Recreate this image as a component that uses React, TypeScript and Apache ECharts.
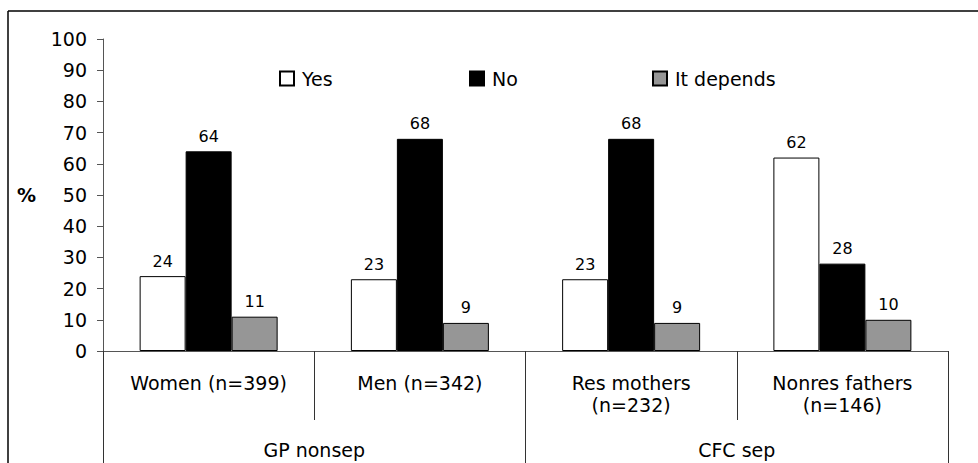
import React, { useEffect, useRef } from "react";
import * as echarts from "echarts";

const categories = ["Women (n=399)", "Men (n=342)", "Res mothers\n(n=232)", "Nonres fathers\n(n=146)"];
const groups = ["GP nonsep", "CFC sep"];
const yesValues = [24, 23, 23, 62];
const noValues = [64, 68, 68, 28];
const dependsValues = [11, 9, 9, 10];
const seriesNames = ["Yes", "No", "It depends"];
const yTicks = { min: 0, max: 100, interval: 10 };

const FONT = "DejaVu Sans";

export default function App() {
  const ref = useRef<HTMLDivElement>(null);
  useEffect(() => {
    if (!ref.current) return;
    const chart = echarts.init(ref.current, undefined, { renderer: "svg" });
    const labelStyle = {
      show: true,
      position: "top" as const,
      distance: 7,
      color: "#000",
      fontFamily: FONT,
      fontSize: 16,
    };
    const legendCommon = {
      top: 64,
      icon: "rect",
      itemWidth: 14,
      itemHeight: 14,
      itemGap: 0,
      textStyle: { fontFamily: FONT, fontSize: 19, color: "#000", padding: [0, 0, 0, 3] },
    };
    chart.setOption({
      animation: false,
      backgroundColor: "#fff",
      textStyle: { fontFamily: FONT },
      grid: { left: 103, right: 30, top: 39, bottom: 112, containLabel: false },
      legend: [
        { ...legendCommon, left: 274, data: [seriesNames[0]] },
        { ...legendCommon, left: 464, data: [seriesNames[1]] },
        { ...legendCommon, left: 647, data: [seriesNames[2]] },
      ],
      xAxis: [
        {
          type: "category",
          data: categories,
          position: "bottom",
          axisLine: { show: true, lineStyle: { color: "#555", width: 1 } },
          axisTick: { show: true, length: 69, lineStyle: { color: "#333", width: 1 } },
          axisLabel: {
            margin: 21,
            fontFamily: FONT,
            fontSize: 19,
            lineHeight: 22,
            color: "#000",
            interval: 0,
          },
        },
        {
          type: "category",
          data: groups,
          position: "bottom",
          offset: 0,
          axisLine: { show: false },
          axisTick: { show: true, length: 112, lineStyle: { color: "#333", width: 1 } },
          axisLabel: { margin: 89, fontFamily: FONT, fontSize: 19, color: "#000", interval: 0 },
        },
      ],
      yAxis: {
        type: "value",
        min: yTicks.min,
        max: yTicks.max,
        interval: yTicks.interval,
        name: "%",
        nameLocation: "middle",
        nameRotate: 0,
        nameGap: 67,
        nameTextStyle: { fontFamily: FONT, fontSize: 19, fontWeight: "bold", color: "#000" },
        axisLine: { show: true, lineStyle: { color: "#555", width: 1 } },
        axisTick: { show: true, length: 6, lineStyle: { color: "#555" } },
        axisLabel: { margin: 16, fontFamily: FONT, fontSize: 19, color: "#000" },
        splitLine: { show: false },
      },
      graphic: [
        { type: "line", shape: { x1: 8, y1: 11, x2: 978, y2: 11 }, style: { stroke: "#000", lineWidth: 1.5 } },
        { type: "line", shape: { x1: 8, y1: 11, x2: 8, y2: 463 }, style: { stroke: "#000", lineWidth: 1.5 } },
      ],
      series: [
        {
          name: seriesNames[0],
          type: "bar",
          data: yesValues,
          barWidth: 46,
          barGap: "0%",
          itemStyle: { color: "#fff", borderColor: "#000", borderWidth: 1 },
          label: labelStyle,
        },
        {
          name: seriesNames[1],
          type: "bar",
          data: noValues,
          barWidth: 46,
          barGap: "0%",
          itemStyle: { color: "#000", borderColor: "#000", borderWidth: 1 },
          label: labelStyle,
        },
        {
          name: seriesNames[2],
          type: "bar",
          data: dependsValues,
          barWidth: 46,
          barGap: "0%",
          itemStyle: { color: "#969696", borderColor: "#000", borderWidth: 1 },
          label: labelStyle,
        },
      ],
    });
    return () => chart.dispose();
  }, []);
  return (
    <div
      ref={ref}
      style={{ position: "fixed", left: 0, top: 0, width: 978, height: 463, background: "#fff" }}
    />
  );
}
